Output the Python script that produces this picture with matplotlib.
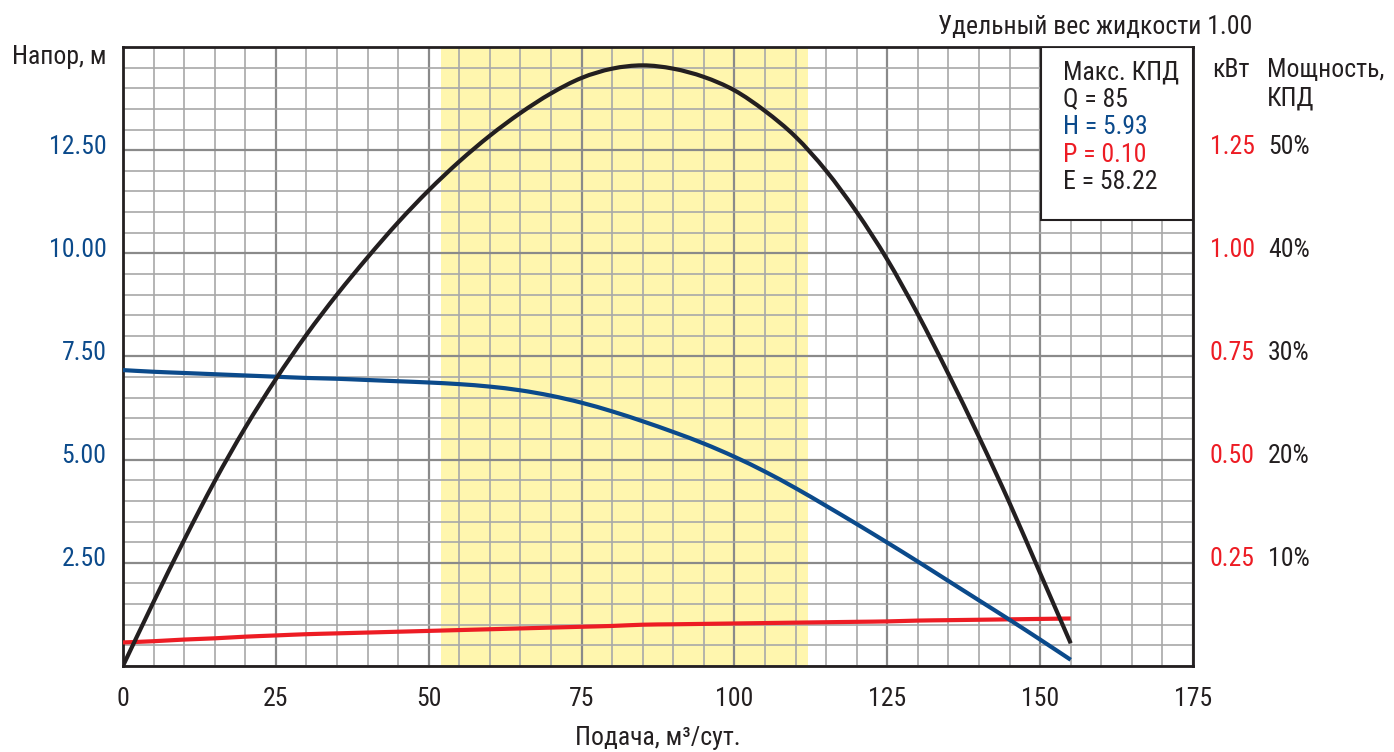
# Pump performance curves: head, power and efficiency vs. flow rate

import numpy as np
import matplotlib.pyplot as plt
import matplotlib.transforms as mtransforms
from matplotlib.patches import Rectangle, PathPatch
from matplotlib.path import Path
from matplotlib.ticker import MultipleLocator

plt.rcParams['font.family'] = ['DejaVu Sans Condensed', 'Roboto Condensed',
                               'Liberation Sans Narrow', 'Roboto', 'DejaVu Sans']
plt.rcParams['font.stretch'] = 'condensed'

# Flow rate, m3/day
flow = [0, 5, 10, 15, 20, 25, 30, 35, 40, 45, 50, 55, 60, 65, 70, 75,
        80, 85, 90, 95, 100, 105, 110, 115, 120, 125, 130, 135, 140, 145, 150, 155]
# Head, m
head = [7.17, 7.13, 7.10, 7.07, 7.04, 7.01, 6.98, 6.96, 6.93, 6.90, 6.87, 6.83,
        6.77, 6.68, 6.55, 6.38, 6.17, 5.93, 5.67, 5.39, 5.07, 4.71, 4.31, 3.88,
        3.44, 2.99, 2.53, 2.06, 1.59, 1.12, 0.64, 0.15]
# Shaft power, kW
power = [0.057, 0.060, 0.064, 0.067, 0.071, 0.074, 0.077, 0.079, 0.081, 0.083,
         0.085, 0.087, 0.089, 0.091, 0.093, 0.095, 0.097, 0.100, 0.101, 0.102,
         0.103, 0.104, 0.105, 0.106, 0.107, 0.108, 0.110, 0.111, 0.112, 0.113,
         0.114, 0.115]
# Efficiency, %
efficiency = [0.0, 6.2, 12.2, 17.9, 23.1, 27.8, 32.1, 36.0, 39.6, 43.0, 46.1, 48.9,
              51.4, 53.6, 55.5, 57.0, 57.9, 58.22, 57.9, 57.1, 55.8, 53.8, 51.3,
              48.0, 44.0, 39.4, 34.1, 28.3, 22.2, 15.8, 9.0, 2.2]

# Recommended operating range, m3/day
work_range = (52, 112)
fluid_density = 1.00

head_ticks = [2.5, 5.0, 7.5, 10.0, 12.5]
power_ticks = [0.25, 0.50, 0.75, 1.00, 1.25]
eff_ticks = [10, 20, 30, 40, 50]
flow_ticks = [0, 25, 50, 75, 100, 125, 150, 175]

BLACK = '#231f20'
BLUE = '#0b4a8b'
RED = '#ed1c24'
FS = 18.5


def smooth_curve(a, xs, ys, **kw):
    # Catmull-Rom curve through the points, drawn as cubic Bezier segments
    p = np.column_stack([xs, ys]).astype(float)
    verts = [p[0]]
    codes = [Path.MOVETO]
    for i in range(len(p) - 1):
        p0 = p[max(i - 1, 0)]
        p3 = p[min(i + 2, len(p) - 1)]
        c1 = p[i] + (p[i + 1] - p0) / 6
        c2 = p[i + 1] - (p3 - p[i]) / 6
        verts += [c1, c2, p[i + 1]]
        codes += [Path.CURVE4] * 3
    a.add_patch(PathPatch(Path(verts, codes), fill=False, capstyle='butt', **kw))


fig = plt.figure(figsize=(13.94, 7.52), dpi=100)
ax = fig.add_axes([0.0882, 0.1144, 0.7676, 0.8231])

ax.set_xlim(0, 175)
ax.set_ylim(0, 15)
ax.axvspan(*work_range, color='#fff6ae', lw=0, zorder=0)

ax.set_xticks(flow_ticks)
ax.xaxis.set_minor_locator(MultipleLocator(5))
ax.set_yticks(head_ticks)
ax.set_yticklabels([f'{v:.2f}' for v in head_ticks])
ax.yaxis.set_minor_locator(MultipleLocator(0.5))
ax.set_axisbelow(True)
ax.grid(which='minor', color='#a8a8a8', lw=1.2)
ax.grid(which='major', color='#8a8a8a', lw=1.6)
ax.tick_params(which='both', length=0)
ax.tick_params(axis='x', pad=15, labelsize=FS, labelcolor=BLACK)
ax.tick_params(axis='y', pad=12, labelsize=FS, labelcolor=BLUE)
for s in ax.spines.values():
    s.set_linewidth(2)
    s.set_color(BLACK)

ax.set_xlabel('Подача, м³/сут.', fontsize=FS, color=BLACK, labelpad=11)

# Power axis (kW) and efficiency axis (%) on the right
ax_p = ax.twinx()
ax_p.set_ylim(0, 1.5)
smooth_curve(ax_p, flow, power, color=RED, lw=3)
ax_p.set_yticks(power_ticks)
ax_p.set_yticklabels([f'{v:.2f}' for v in power_ticks])
ax_p.tick_params(length=0, pad=12, labelsize=FS, labelcolor=RED)

# Head curve on an overlay sharing the head scale
ax_h = fig.add_axes(ax.get_position(), sharex=ax, sharey=ax, frameon=False)
ax_h.axis('off')
smooth_curve(ax_h, flow, head, color=BLUE, lw=3)

ax_e = ax.twinx()
ax_e.set_ylim(0, 60)
smooth_curve(ax_e, flow, efficiency, color=BLACK, lw=3)
ax_e.set_yticks(eff_ticks)
ax_e.set_yticklabels([f'{v}%' for v in eff_ticks])
ax_e.tick_params(length=0, pad=54, labelsize=FS, labelcolor=BLACK)
for a in (ax_p, ax_e):
    for s in a.spines.values():
        s.set_visible(False)

# lift tick labels a little above their grid lines
lift = mtransforms.ScaledTranslation(0, 0.06, fig.dpi_scale_trans)
for a in (ax, ax_p, ax_e):
    for lbl in a.get_yticklabels():
        lbl.set_transform(lbl.get_transform() + lift)

# best efficiency point box
i_best = int(np.argmax(efficiency))
ax_e.add_patch(Rectangle((0.858, 0.7205), 0.142, 0.2795, transform=ax_e.transAxes,
                         fc='white', ec=BLACK, lw=1.5, zorder=5))
box_lines = [
    ('Макс. КПД', BLACK),
    (f'Q = {flow[i_best]}', BLACK),
    (f'H = {head[i_best]:.2f}', BLUE),
    (f'P = {power[i_best]:.2f}', RED),
    (f'E = {efficiency[i_best]:.2f}', BLACK),
]
for k, (txt, col) in enumerate(box_lines):
    ax_e.text(0.8785, 0.9596 - k * 0.0445, txt, transform=ax_e.transAxes,
              fontsize=FS, color=col, va='center', ha='left', zorder=6)

# axis headers
fig.text(107 / 1394, 1 - 57 / 752, 'Напор, м', fontsize=FS, color=BLACK,
         ha='right', va='center')
fig.text(1212 / 1394, 1 - 70 / 752, 'кВт', fontsize=FS, color=BLACK,
         ha='left', va='center')
fig.text(1267 / 1394, 1 - 70 / 752, 'Мощность,', fontsize=FS, color=BLACK,
         ha='left', va='center')
fig.text(1267 / 1394, 1 - 98 / 752, 'КПД', fontsize=FS, color=BLACK,
         ha='left', va='center')
fig.text(1252 / 1394, 1 - 27 / 752, f'Удельный вес жидкости {fluid_density:.2f}',
         fontsize=FS, color=BLACK, ha='right', va='center')

fig.savefig('out.png', dpi=100)
